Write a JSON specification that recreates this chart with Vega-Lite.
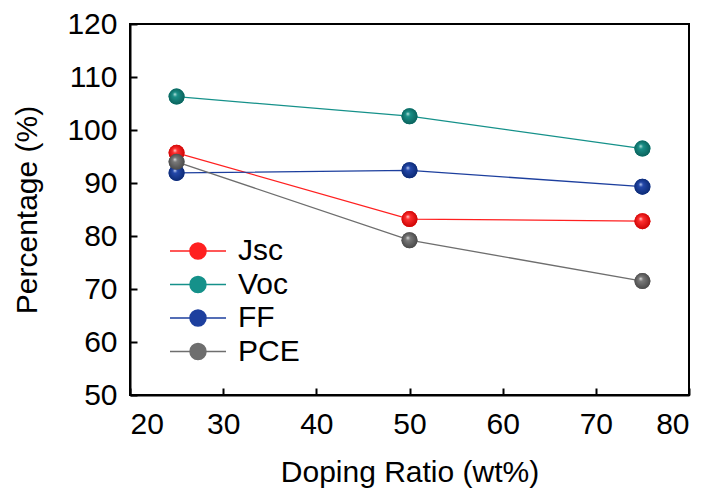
{
  "$schema": "https://vega.github.io/schema/vega-lite/v6.json",
  "autosize": {"type": "none"},
  "padding": {"left": 130, "top": 24, "right": 21, "bottom": 95},
  "width": 559,
  "height": 371,
  "config": {
    "font": "Liberation Sans",
    "view": {"stroke": "black", "strokeWidth": 2},
    "axis": {
      "domainColor": "black", "domainWidth": 2,
      "tickColor": "black", "tickWidth": 2, "tickSize": -7,
      "labelFontSize": 30, "labelColor": "black", "labelFont": "Liberation Sans",
      "titleFontSize": 30, "titleColor": "black", "titleFont": "Liberation Sans", "titleFontWeight": "normal",
      "grid": false
    }
  },
  "data": {
    "values": [
      {"ratio": 25, "pct": 95.7, "series": "Jsc"},
      {"ratio": 50, "pct": 83.2, "series": "Jsc"},
      {"ratio": 75, "pct": 82.8, "series": "Jsc"},
      {"ratio": 25, "pct": 106.3, "series": "Voc"},
      {"ratio": 50, "pct": 102.6, "series": "Voc"},
      {"ratio": 75, "pct": 96.5, "series": "Voc"},
      {"ratio": 25, "pct": 91.9, "series": "FF"},
      {"ratio": 50, "pct": 92.4, "series": "FF"},
      {"ratio": 75, "pct": 89.3, "series": "FF"},
      {"ratio": 25, "pct": 94.0, "series": "PCE"},
      {"ratio": 50, "pct": 79.2, "series": "PCE"},
      {"ratio": 75, "pct": 71.5, "series": "PCE"}
    ]
  },
  "encoding": {
    "x": {"field": "ratio", "type": "quantitative", "scale": {"domain": [20, 80], "nice": false, "zero": false},
          "axis": {"values": [20, 30, 40, 50, 60, 70, 80], "title": "Doping Ratio (wt%)", "labelPadding": 21, "titlePadding": 18}},
    "y": {"field": "pct", "type": "quantitative", "scale": {"domain": [50, 120], "nice": false, "zero": false},
          "axis": {"values": [50, 60, 70, 80, 90, 100, 110, 120], "title": "Percentage (%)", "labelPadding": 20, "titlePadding": 24}}
  },
  "layer": [
    {
      "mark": {"type": "line", "strokeWidth": 1.3},
      "encoding": {
        "color": {"field": "series", "type": "nominal",
          "scale": {"domain": ["Jsc", "Voc", "FF", "PCE"], "range": ["#ff2020", "#15918a", "#1d3f9e", "#6e6e6e"]},
          "legend": {"title": null, "orient": "none", "legendX": 53, "legendY": 212,
            "symbolType": "M -3.5 0 L -1 0 M 1 0 L 3.5 0 M -1 0 A 1 1 0 1 0 1 0 A 1 1 0 1 0 -1 0",
            "symbolSize": 256, "symbolStrokeWidth": 1.5, "symbolOpacity": 1,
            "labelFontSize": 30, "labelColor": "black", "labelOffset": 25, "rowPadding": 3.5, "labelFont": "Liberation Sans"}}
      }
    },
    {
      "mark": {"type": "point", "filled": true, "opacity": 1, "size": 256},
      "encoding": {"color": {"field": "series", "type": "nominal"}}
    },
    {
      "transform": [{"filter": "datum.series === 'Jsc'"}],
      "mark": {"type": "point", "filled": true, "opacity": 1, "size": 256,
        "fill": {"gradient": "radial", "x1": 0.38, "y1": 0.34, "r1": 0, "x2": 0.5, "y2": 0.5, "r2": 0.55,
          "stops": [{"offset": 0, "color": "#ffe0e0"}, {"offset": 0.25, "color": "#ff3030"}, {"offset": 1, "color": "#c80000"}]}}
    },
    {
      "transform": [{"filter": "datum.series === 'Voc'"}],
      "mark": {"type": "point", "filled": true, "opacity": 1, "size": 256,
        "fill": {"gradient": "radial", "x1": 0.38, "y1": 0.34, "r1": 0, "x2": 0.5, "y2": 0.5, "r2": 0.55,
          "stops": [{"offset": 0, "color": "#d0eeea"}, {"offset": 0.25, "color": "#1a9088"}, {"offset": 1, "color": "#0a5e58"}]}}
    },
    {
      "transform": [{"filter": "datum.series === 'FF'"}],
      "mark": {"type": "point", "filled": true, "opacity": 1, "size": 256,
        "fill": {"gradient": "radial", "x1": 0.38, "y1": 0.34, "r1": 0, "x2": 0.5, "y2": 0.5, "r2": 0.55,
          "stops": [{"offset": 0, "color": "#d0dcf8"}, {"offset": 0.25, "color": "#2448aa"}, {"offset": 1, "color": "#0a2870"}]}}
    },
    {
      "transform": [{"filter": "datum.series === 'PCE'"}],
      "mark": {"type": "point", "filled": true, "opacity": 1, "size": 256,
        "fill": {"gradient": "radial", "x1": 0.38, "y1": 0.34, "r1": 0, "x2": 0.5, "y2": 0.5, "r2": 0.55,
          "stops": [{"offset": 0, "color": "#e8e8e8"}, {"offset": 0.25, "color": "#7a7a7a"}, {"offset": 1, "color": "#454545"}]}}
    }
  ]
}
